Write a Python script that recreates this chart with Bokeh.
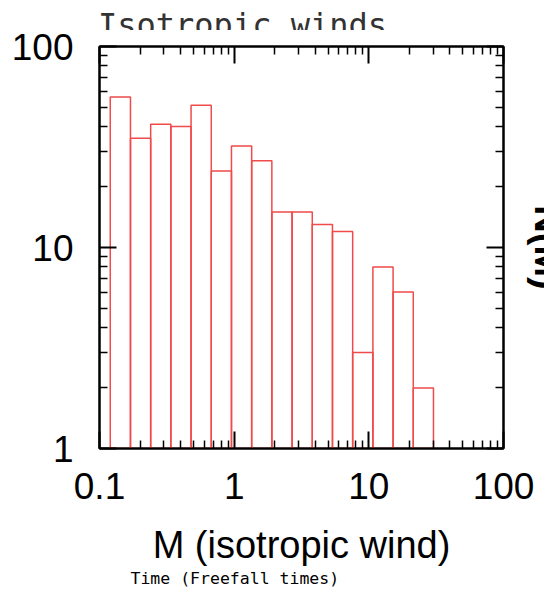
import math
from bokeh.plotting import figure
from bokeh.models import LogAxis, FixedTicker, Range1d, Title, Div
from bokeh.layouts import column
from bokeh.embed import file_html
from bokeh.resources import INLINE

# ---- data ----
bin_edges = [0.1202, 0.1698, 0.2399, 0.3388, 0.4786, 0.6761, 0.955, 1.349, 1.905,
             2.692, 3.802, 5.370, 7.586, 10.72, 15.14, 21.38, 30.20]
counts = [56, 35, 41, 40, 51, 24, 32, 27, 15, 15, 13, 12, 3, 8, 6, 2]
x_ticks = [0.1, 1, 10, 100]
x_tick_labels = ["0.1", "1", "10", "100"]
y_ticks = [1, 10, 100]
y_tick_labels = ["1", "10", "100"]
title_text = "Isotropic winds"
x_label = "M (isotropic wind)"
y_label = "N(M)"
footer_text = "Time (Freefall times)"

# ---- geometry ----
W = 544
TOP_H = 30
MAIN_H = 564
FL, FR = 99, 503
FT, FB = 46 - TOP_H, 448 - TOP_H
RIGHT_BORDER = 85
RED = "#f04a4a"
TICK_FONT = "Liberation Sans"

# ---- title strip (cut off at its bottom, as in the reference) ----
title_div = Div(
    text=('<div style="margin:0;padding:9px 0 0 98px;font-family:\'DejaVu Sans Mono\';'
          'font-size:32px;line-height:32px;color:#333333;white-space:nowrap">'
          + title_text + '</div>'),
    width=W, height=TOP_H, styles={"overflow": "hidden", "margin": "0"})

# ---- main histogram ----
p = figure(width=FR + RIGHT_BORDER, height=MAIN_H, x_axis_type="log", y_axis_type="log",
           x_range=Range1d(0.1, 100), y_range=Range1d(1, 100),
           output_backend="svg", toolbar_location=None,
           min_border_left=FL, min_border_right=RIGHT_BORDER,
           min_border_top=FT, min_border_bottom=MAIN_H - FB)
p.grid.visible = False
p.outline_line_color = "black"
p.outline_line_width = 2

x_minor = [m * 10 ** k for k in (-1, 0, 1) for m in range(2, 10)]
y_minor = [m * 10 ** k for k in (0, 1) for m in range(2, 10)]
xt = FixedTicker(ticks=x_ticks, minor_ticks=x_minor)
yt = FixedTicker(ticks=y_ticks, minor_ticks=y_minor)


def style(ax):
    ax.axis_line_width = 2
    ax.axis_line_color = "black"
    ax.major_tick_line_width = 2
    ax.minor_tick_line_width = 1.5
    ax.major_tick_in = 17
    ax.major_tick_out = 0
    ax.minor_tick_in = 8
    ax.minor_tick_out = 0
    ax.major_label_text_font = TICK_FONT
    ax.major_label_text_font_size = "37px"
    ax.major_label_text_color = "black"


p.xaxis.ticker = xt
p.yaxis.ticker = yt
for ax in p.xaxis:
    style(ax)
    ax.major_label_overrides = dict(zip(x_ticks, x_tick_labels))
    ax.major_label_standoff = 24
    ax.axis_label = x_label
    ax.axis_label_text_font = TICK_FONT
    ax.axis_label_text_font_size = "38px"
    ax.axis_label_text_font_style = "normal"
    ax.axis_label_text_color = "black"
    ax.axis_label_standoff = 22
for ax in p.yaxis:
    style(ax)
    ax.major_label_overrides = dict(zip(y_ticks, y_tick_labels))
    ax.major_label_standoff = 26

top_ax = LogAxis(ticker=xt)
right_ax = LogAxis(ticker=yt)
for ax in (top_ax, right_ax):
    style(ax)
    ax.major_label_text_font_size = "2px"
    ax.major_label_text_alpha = 0
    ax.major_label_standoff = 0
right_ax.axis_label = y_label
right_ax.axis_label_text_font = TICK_FONT
right_ax.axis_label_text_font_size = "38px"
right_ax.axis_label_text_font_style = "bold"
right_ax.axis_label_text_color = "black"
right_ax.axis_label_standoff = 23
p.add_layout(top_ax, "above")
p.add_layout(right_ax, "right")

p.add_layout(Title(text=footer_text, align="left", offset=31, standoff=-3,
                   text_font="DejaVu Sans Mono", text_font_size="16.5px",
                   text_font_style="normal", text_color="black"), "below")

p.quad(left=bin_edges[:-1], right=bin_edges[1:], bottom=[1] * len(counts), top=counts,
       fill_color=None, line_color=RED, line_width=1.5)

layout = column(title_div, p, spacing=0)
html = file_html(layout, INLINE)
html = html.replace("<body>", '<body style="margin:0;overflow:hidden">', 1)
open("out.html", "w").write(html)
